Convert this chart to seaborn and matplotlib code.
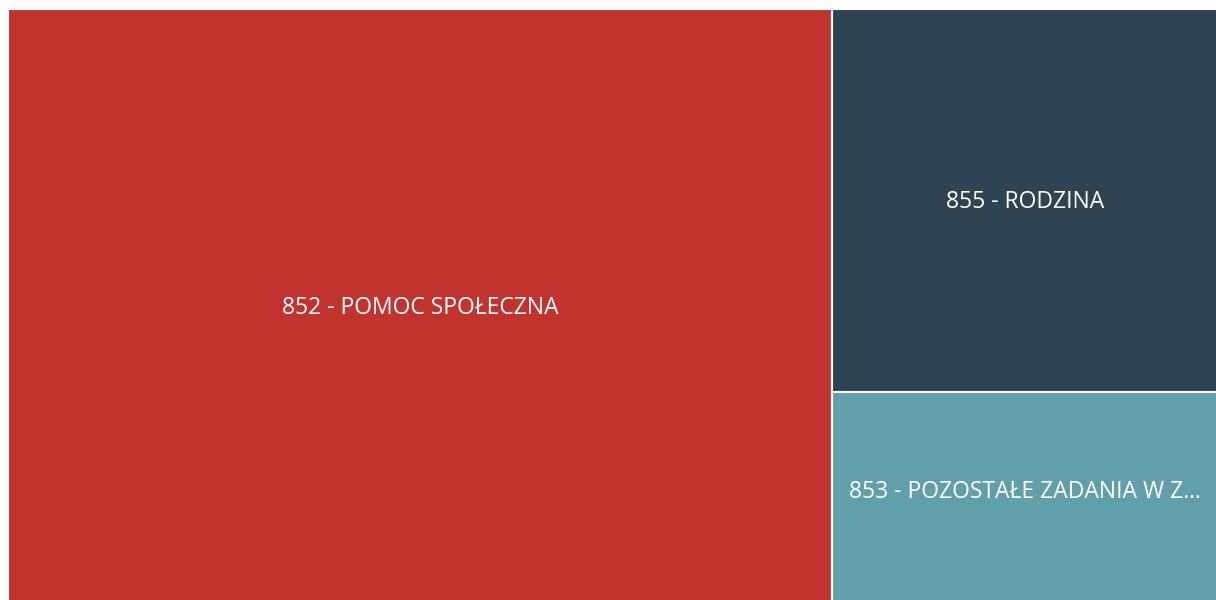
import matplotlib.pyplot as plt
import seaborn as sns

labels = ["852 - POMOC SPOŁECZNA", "855 - RODZINA", "853 - POZOSTAŁE ZADANIA W Z..."]
values = [68.1, 20.6, 11.3]
colors = ["#C1332F", "#2E4453", "#619FA9"]

sns.set_style("white")
plt.rcParams["font.family"] = ["Open Sans", "DejaVu Sans"]

fig = plt.figure(figsize=(12.16, 6), dpi=100)
ax = fig.add_axes([8 / 1216, -2 / 600, 1210 / 1216, 593 / 600])

total = sum(values)
# first block takes a full-height column, the rest stack in the remaining column
w0 = values[0]
ax.bar(0, 1, width=w0, bottom=0, align="edge", color=colors[0],
       edgecolor="white", linewidth=1.5)
ax.text(w0 / 2, 0.495, labels[0], ha="center", va="center", color="white", fontsize=16.5)

rest = sum(values[1:])
w1 = total - w0
top = 1.0
for i, (lab, v, c) in enumerate(zip(labels[1:], values[1:], colors[1:])):
    h = v / rest
    ax.bar(w0, h, width=w1, bottom=top - h, align="edge", color=c,
           edgecolor="white", linewidth=1.5)
    dy = -0.003 if i == 0 else 0.008
    ax.text(w0 + w1 / 2, top - h / 2 + dy, lab, ha="center", va="center",
            color="white", fontsize=16.5)
    top -= h

ax.set_xlim(0, total)
ax.set_ylim(0, 1)
ax.axis("off")

fig.savefig("out.png", dpi=100)
